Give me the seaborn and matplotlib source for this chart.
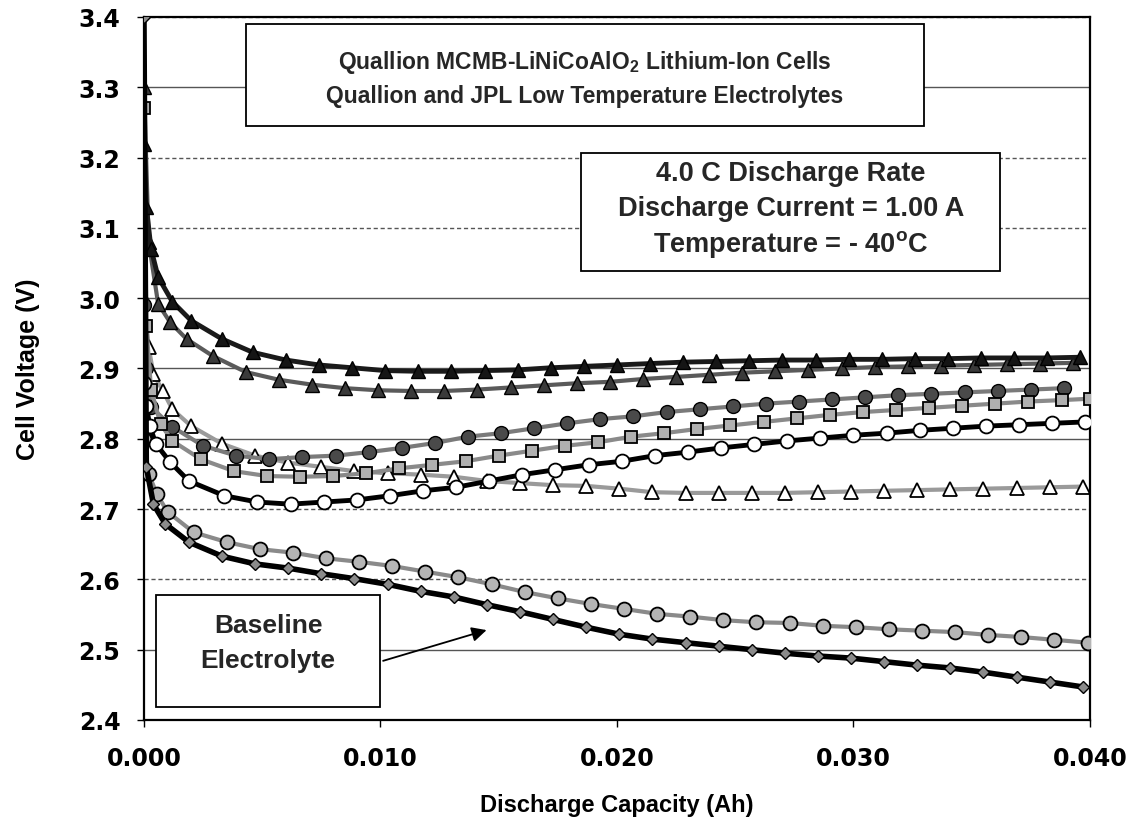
import matplotlib
matplotlib.use("Agg")
import matplotlib.pyplot as plt
import seaborn as sns
from matplotlib.patches import Rectangle
from matplotlib.ticker import FormatStrFormatter

# ---------------- data ----------------
A_x = [0.0, 0.0001, 0.0003, 0.0006, 0.0012, 0.0020, 0.0033, 0.0046, 0.0060, 0.0074, 0.0088, 0.0102, 0.0116,
       0.0130, 0.0144, 0.0158, 0.0172, 0.0186, 0.0200, 0.0214, 0.0228, 0.0242, 0.0256, 0.0270, 0.0284, 0.0298,
       0.0312, 0.0326, 0.0340, 0.0354, 0.0368, 0.0382, 0.0396]
A_v = [3.22, 3.13, 3.07, 3.03, 2.995, 2.968, 2.942, 2.923, 2.912, 2.905, 2.901, 2.897, 2.896, 2.896, 2.897,
       2.898, 2.901, 2.903, 2.905, 2.907, 2.909, 2.910, 2.911, 2.912, 2.912, 2.913, 2.913, 2.914, 2.914, 2.915,
       2.915, 2.915, 2.916]

B_x = [0.0, 0.0002, 0.0006, 0.0011, 0.0018, 0.0029, 0.0043, 0.0057, 0.0071, 0.0085, 0.0099, 0.0113, 0.0127,
       0.0141, 0.0155, 0.0169, 0.0183, 0.0197, 0.0211, 0.0225, 0.0239, 0.0253, 0.0267, 0.0281, 0.0295, 0.0309,
       0.0323, 0.0337, 0.0351, 0.0365, 0.0379, 0.0393]
B_v = [3.30, 3.08, 2.992, 2.966, 2.942, 2.918, 2.895, 2.884, 2.877, 2.872, 2.869, 2.868, 2.868, 2.870, 2.873,
       2.876, 2.879, 2.881, 2.885, 2.888, 2.891, 2.894, 2.896, 2.898, 2.900, 2.902, 2.903, 2.904, 2.905, 2.906,
       2.907, 2.908]

C_x = [0.0, 0.0001, 0.0003, 0.0012, 0.0025, 0.0039, 0.0053, 0.0067, 0.0081, 0.0095, 0.0109, 0.0123, 0.0137,
       0.0151, 0.0165, 0.0179, 0.0193, 0.0207, 0.0221, 0.0235, 0.0249, 0.0263, 0.0277, 0.0291, 0.0305, 0.0319,
       0.0333, 0.0347, 0.0361, 0.0375, 0.0389]
C_v = [2.99, 2.90, 2.845, 2.817, 2.790, 2.776, 2.771, 2.774, 2.776, 2.781, 2.787, 2.794, 2.803, 2.808, 2.815,
       2.822, 2.828, 2.832, 2.838, 2.842, 2.846, 2.850, 2.853, 2.856, 2.859, 2.862, 2.864, 2.866, 2.868, 2.870,
       2.872]

D_x = [0.0, 0.0001, 0.0003, 0.0007, 0.0012, 0.0024, 0.0038, 0.0052, 0.0066, 0.0080, 0.0094, 0.0108, 0.0122,
       0.0136, 0.0150, 0.0164, 0.0178, 0.0192, 0.0206, 0.0220, 0.0234, 0.0248, 0.0262, 0.0276, 0.0290, 0.0304,
       0.0318, 0.0332, 0.0346, 0.0360, 0.0374, 0.0388, 0.0400]
D_v = [3.27, 2.96, 2.87, 2.821, 2.797, 2.771, 2.754, 2.747, 2.746, 2.747, 2.751, 2.758, 2.763, 2.768, 2.776,
       2.783, 2.790, 2.795, 2.803, 2.808, 2.814, 2.819, 2.824, 2.829, 2.834, 2.838, 2.841, 2.844, 2.847, 2.850,
       2.853, 2.855, 2.857]

E_x = [0.0, 0.0001, 0.00025, 0.0005, 0.0011, 0.0019, 0.0034, 0.0048, 0.0062, 0.0076, 0.0090, 0.0104, 0.0118,
       0.0132, 0.0146, 0.0160, 0.0174, 0.0188, 0.0202, 0.0216, 0.0230, 0.0244, 0.0258, 0.0272, 0.0286, 0.0300,
       0.0314, 0.0328, 0.0342, 0.0356, 0.0370, 0.0384, 0.0398]
E_v = [2.88, 2.847, 2.818, 2.793, 2.767, 2.740, 2.719, 2.710, 2.707, 2.710, 2.713, 2.719, 2.726, 2.731, 2.740,
       2.749, 2.756, 2.763, 2.768, 2.776, 2.781, 2.787, 2.792, 2.797, 2.801, 2.805, 2.808, 2.812, 2.815, 2.818,
       2.820, 2.822, 2.824]

F_x = [0.0, 0.0002, 0.0004, 0.0008, 0.0012, 0.0020, 0.0033, 0.0047, 0.0061, 0.0075, 0.0089, 0.0103, 0.0117,
       0.0131, 0.0145, 0.0159, 0.0173, 0.0187, 0.0201, 0.0215, 0.0229, 0.0243, 0.0257, 0.0271, 0.0285, 0.0299,
       0.0313, 0.0327, 0.0341, 0.0355, 0.0369, 0.0383, 0.0397]
F_v = [3.00, 2.93, 2.892, 2.868, 2.842, 2.818, 2.793, 2.776, 2.766, 2.760, 2.754, 2.751, 2.749, 2.746, 2.740,
       2.737, 2.734, 2.733, 2.729, 2.724, 2.723, 2.723, 2.723, 2.723, 2.724, 2.725, 2.726, 2.727, 2.728, 2.729,
       2.730, 2.731, 2.732]

G_x = [0.0, 0.0002, 0.00055, 0.0010, 0.0021, 0.0035, 0.0049, 0.0063, 0.0077, 0.0091, 0.0105, 0.0119, 0.0133,
       0.0147, 0.0161, 0.0175, 0.0189, 0.0203, 0.0217, 0.0231, 0.0245, 0.0259, 0.0273, 0.0287, 0.0301, 0.0315,
       0.0329, 0.0343, 0.0357, 0.0371, 0.0385, 0.0399]
G_v = [2.80, 2.75, 2.721, 2.696, 2.667, 2.653, 2.643, 2.638, 2.630, 2.625, 2.619, 2.611, 2.603, 2.593, 2.582,
       2.573, 2.565, 2.558, 2.551, 2.547, 2.542, 2.539, 2.538, 2.534, 2.532, 2.529, 2.527, 2.525, 2.521, 2.518,
       2.514, 2.510]

H_x = [0.0, 0.0001, 0.0004, 0.0009, 0.0019, 0.0033, 0.0047, 0.0061, 0.0075, 0.0089, 0.0103, 0.0117, 0.0131,
       0.0145, 0.0159, 0.0173, 0.0187, 0.0201, 0.0215, 0.0229, 0.0243, 0.0257, 0.0271, 0.0285, 0.0299, 0.0313,
       0.0327, 0.0341, 0.0355, 0.0369, 0.0383, 0.0397]
H_v = [3.40, 2.76, 2.707, 2.679, 2.653, 2.633, 2.622, 2.616, 2.608, 2.601, 2.593, 2.583, 2.575, 2.564, 2.554,
       2.543, 2.532, 2.522, 2.515, 2.510, 2.505, 2.500, 2.495, 2.491, 2.488, 2.483, 2.478, 2.474, 2.468, 2.461,
       2.454, 2.447]

x_ticks = [0.000, 0.010, 0.020, 0.030, 0.040]
y_ticks = [2.4, 2.5, 2.6, 2.7, 2.8, 2.9, 3.0, 3.1, 3.2, 3.3, 3.4]

title_lines = ["Quallion MCMB-LiNiCoAlO$_2$ Lithium-Ion Cells",
               "Quallion and JPL Low Temperature Electrolytes"]
cond_lines = ["4.0 C Discharge Rate", "Discharge Current = 1.00 A", "Temperature = - 40$^{\\mathregular{o}}$C"]
baseline_lines = ["Baseline", "Electrolyte"]

# ---------------- style ----------------
sns.set_theme(style="white")
plt.rcParams["font.family"] = ["Liberation Sans", "DejaVu Sans"]
plt.rcParams["mathtext.fontset"] = "custom"
plt.rcParams["mathtext.rm"] = "Liberation Sans:bold"
plt.rcParams["mathtext.it"] = "Liberation Sans:bold"
plt.rcParams["mathtext.bf"] = "Liberation Sans:bold"
plt.rcParams["mathtext.default"] = "rm"

fig = plt.figure(figsize=(11.48, 8.29), dpi=100)
ax = fig.add_axes([0.1254, 0.1303, 0.8240, 0.8480])

series = [
    (B_x, B_v, dict(color="#5a5a5a", linewidth=3.0, marker="^", markersize=10, markerfacecolor="#3a3a3a",
                    markeredgecolor="black", markeredgewidth=1.0, zorder=3)),
    (F_x, F_v, dict(color="#9a9a9a", linewidth=3.0, marker="^", markersize=10, markerfacecolor="white",
                    markeredgecolor="black", markeredgewidth=1.3, zorder=3)),
    (C_x, C_v, dict(color="#7a7a7a", linewidth=3.0, marker="o", markersize=10, markerfacecolor="#4a4a4a",
                    markeredgecolor="black", markeredgewidth=1.0, zorder=3)),
    (D_x, D_v, dict(color="#8a8a8a", linewidth=3.0, marker="s", markersize=9, markerfacecolor="#b0b0b0",
                    markeredgecolor="black", markeredgewidth=1.3, zorder=3)),
    (G_x, G_v, dict(color="#8a8a8a", linewidth=3.0, marker="o", markersize=10, markerfacecolor="#b5b5b5",
                    markeredgecolor="black", markeredgewidth=1.3, zorder=3)),
    (A_x, A_v, dict(color="#1a1a1a", linewidth=3.5, marker="^", markersize=10, markerfacecolor="#151515",
                    markeredgecolor="black", markeredgewidth=1.0, zorder=4)),
    (E_x, E_v, dict(color="black", linewidth=3.5, marker="o", markersize=10, markerfacecolor="white",
                    markeredgecolor="black", markeredgewidth=1.3, zorder=4)),
    (H_x, H_v, dict(color="black", linewidth=4.0, marker="D", markersize=6, markerfacecolor="#8a8a8a",
                    markeredgecolor="black", markeredgewidth=1.0, zorder=4)),
]
for xs, vs, st in series:
    sns.lineplot(x=xs, y=vs, ax=ax, sort=False, estimator=None, **st)

ax.set_xlim(0.0, 0.040)
ax.set_ylim(2.4, 3.4)
ax.set_xticks(x_ticks)
ax.set_yticks(y_ticks)
ax.xaxis.set_major_formatter(FormatStrFormatter("%.3f"))
ax.yaxis.set_major_formatter(FormatStrFormatter("%.1f"))
ax.tick_params(axis="both", direction="out", length=5, width=1.0, color="black", bottom=True, left=True)
ax.tick_params(axis="x", pad=14)
ax.tick_params(axis="y", pad=12)
for lbl in ax.get_xticklabels() + ax.get_yticklabels():
    lbl.set_fontfamily("DejaVu Sans")
    lbl.set_fontweight("bold")
    lbl.set_fontsize(17)
    lbl.set_color("black")

ax.yaxis.grid(True, color="#555555", linewidth=1.0)
solid = [False, True, False, False, True, True, True, False, False, True, False]
for gl, s in zip(ax.get_ygridlines(), solid):
    gl.set_linestyle("-" if s else (0, (3, 2)))
    gl.set_zorder(0.5)
ax.xaxis.grid(False)
for sp in ax.spines.values():
    sp.set_color("black")
    sp.set_linewidth(1.6)
    sp.set_visible(True)

ax.set_xlabel("Discharge Capacity (Ah)", fontsize=17, fontweight="bold", labelpad=16, color="black")
ax.set_ylabel("Cell Voltage (V)", fontsize=18, fontweight="bold", labelpad=28, color="black")

# ---------------- annotation boxes ----------------
def box(x0, y0, x1, y1):
    ax.add_patch(Rectangle((x0, y0), x1 - x0, y1 - y0, facecolor="white", edgecolor="black",
                           linewidth=1.3, zorder=6))

box(0.0043, 3.245, 0.0330, 3.390)
ax.text(0.01865, 3.337, title_lines[0], ha="center", va="center", fontsize=16.5, fontweight="bold", zorder=7)
ax.text(0.01865, 3.288, title_lines[1], ha="center", va="center", fontsize=16.5, fontweight="bold", zorder=7)

box(0.0185, 3.039, 0.0362, 3.207)
for yv, t in zip([3.178, 3.128, 3.078], cond_lines):
    ax.text(0.02735, yv, t, ha="center", va="center", fontsize=19.5, fontweight="bold", zorder=7)

box(0.0005, 2.418, 0.0100, 2.578)
for yv, t in zip([2.535, 2.485], baseline_lines):
    ax.text(0.00525, yv, t, ha="center", va="center", fontsize=19, fontweight="bold", zorder=7)

ax.annotate("", xy=(0.0146, 2.529), xytext=(0.0100, 2.483),
            arrowprops=dict(arrowstyle="-|>", color="black", lw=1.3, mutation_scale=22), zorder=7)

fig.savefig("out.png", dpi=100)
